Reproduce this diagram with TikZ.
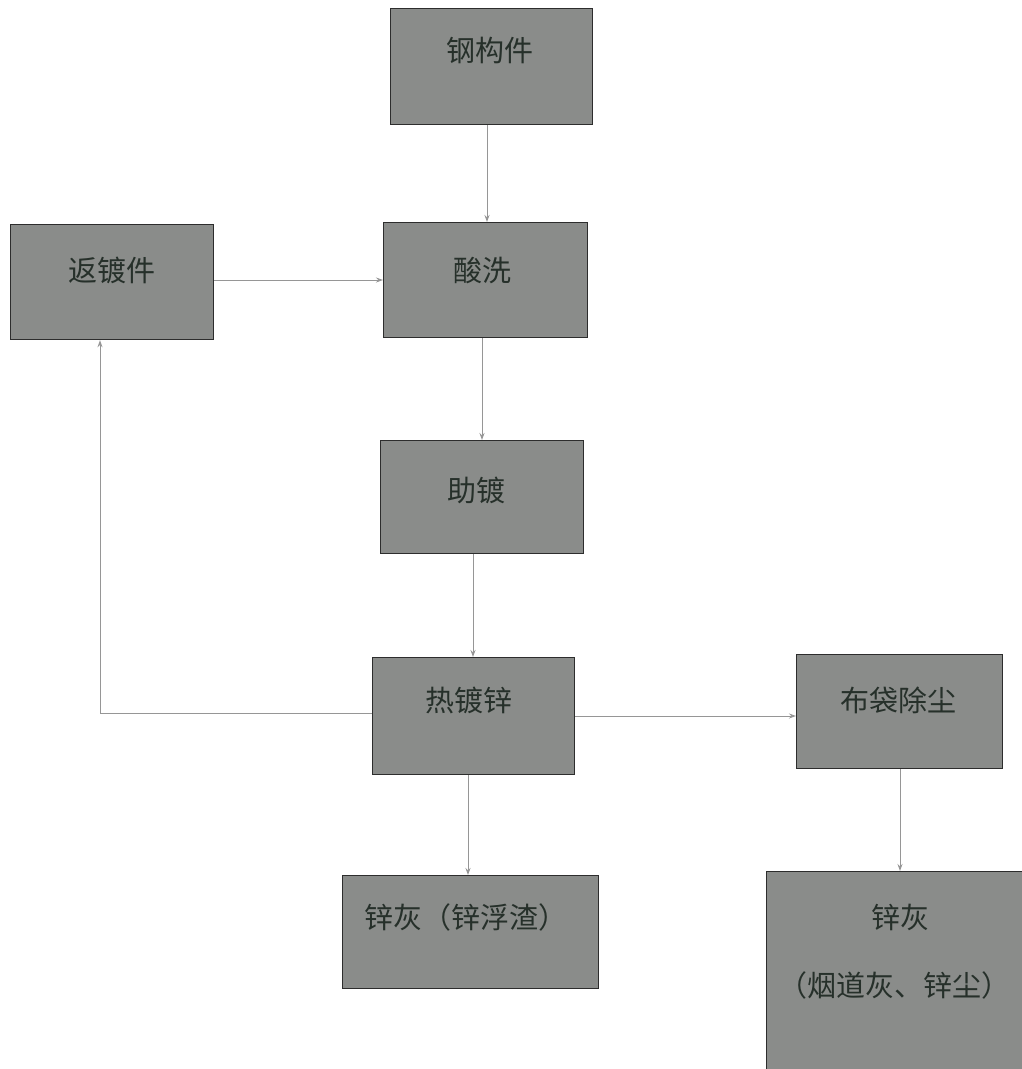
\documentclass[tikz,border=0pt]{standalone}
\usepackage{fontspec}
\setmainfont{Noto Sans CJK SC}
\usetikzlibrary{arrows.meta}
\definecolor{boxfill}{RGB}{138,140,138}
\definecolor{boxline}{RGB}{45,45,45}
\definecolor{txtcol}{RGB}{38,48,42}
\definecolor{arrcol}{RGB}{150,150,150}
\tikzset{
  box/.style={draw=boxline, line width=1.2pt, fill=boxfill, inner sep=0pt, anchor=north west},
  lbl/.style={text=txtcol, font=\fontsize{29}{34}\selectfont, inner sep=0pt},
  arr/.style={draw=arrcol, line width=1pt, -{Stealth[length=7pt,width=5pt]}}
}
\begin{document}
\begin{tikzpicture}[x=1pt,y=-1pt]
\useasboundingbox (0,0) rectangle (1022,1069);
% boxes
\node[box, minimum width=202pt, minimum height=116pt] (gg) at (390,8) {};
\node[box, minimum width=203pt, minimum height=115pt] (fd) at (10,224) {};
\node[box, minimum width=204pt, minimum height=115pt] (sx) at (383,222) {};
\node[box, minimum width=203pt, minimum height=113pt] (zd) at (380,440) {};
\node[box, minimum width=202pt, minimum height=117pt] (rd) at (372,657) {};
\node[box, minimum width=206pt, minimum height=114pt] (bd) at (796,654) {};
\node[box, minimum width=256pt, minimum height=113pt] (zh1) at (342,875) {};
\node[box, minimum width=256pt, minimum height=198pt] (zh2) at (766,871) {};
% labels
\node[lbl] (t1) at (490,50) {钢构件};
\node[lbl] (t2) at (112,270) {返镀件};
\node[lbl] (t3) at (482,270) {酸洗};
\node[lbl] (t4) at (476,490) {助镀};
\node[lbl] (t5) at (469,700) {热镀锌};
\node[lbl] (t6) at (898,700) {布袋除尘};
\node[lbl] (t7) at (466,917) {锌灰（锌浮渣）};
\node[lbl] (t8) at (900,917) {锌灰};
\node[lbl] (t9) at (894,985) {（烟道灰、锌尘）};
% connector x positions
\coordinate (x1) at (487,0);
\coordinate (x2) at (482,0);
\coordinate (x3) at (473,0);
\coordinate (x4) at (468,0);
\coordinate (x5) at (900,0);
\coordinate (c1) at (100,713);
\coordinate (y1) at (0,280);
\coordinate (y2) at (0,716);
\draw[arr] (gg.south -| x1) -- (sx.north -| x1);
\draw[arr] (fd.east |- y1) -- (sx.west |- y1);
\draw[arr] (sx.south -| x2) -- (zd.north -| x2);
\draw[arr] (zd.south -| x3) -- (rd.north -| x3);
\draw[arr] (rd.west |- c1) -- (c1) -- (fd.south -| c1);
\draw[arr] (rd.east |- y2) -- (bd.west |- y2);
\draw[arr] (rd.south -| x4) -- (zh1.north -| x4);
\draw[arr] (bd.south -| x5) -- (zh2.north -| x5);
\end{tikzpicture}
\end{document}
